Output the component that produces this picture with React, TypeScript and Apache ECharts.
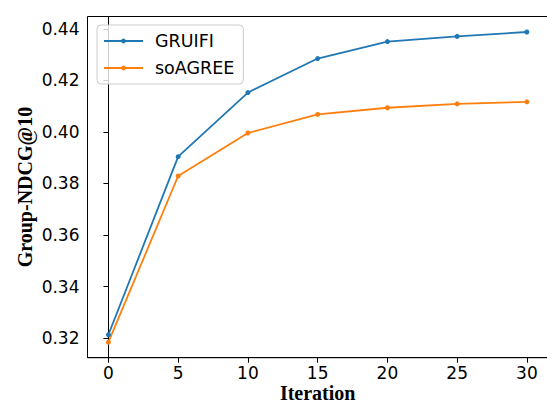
import React, { useEffect, useRef } from "react";
import * as echarts from "echarts";

// Evaluation iterations and Group-NDCG@10 per method
const iterations = [0, 5, 10, 15, 20, 25, 30];
const gruifi = [0.3213, 0.3904, 0.4153, 0.4285, 0.4351, 0.4371, 0.4388];
const soagree = [0.3184, 0.3829, 0.3996, 0.4068, 0.4094, 0.4109, 0.4117];

const xTicks = [0, 5, 10, 15, 20, 25, 30];
const yTicks = [0.32, 0.34, 0.36, 0.38, 0.4, 0.42, 0.44];

const seriesNames = ["GRUIFI", "soAGREE"];
const seriesColors = ["#1f77b4", "#ff7f0e"];

const tickFont = "'DejaVu Sans', sans-serif";
const titleFont = "'Liberation Serif', 'Times New Roman', serif";

export default function App() {
  const ref = useRef<HTMLDivElement>(null);

  useEffect(() => {
    if (!ref.current) return;
    const chart = echarts.init(ref.current, undefined, { renderer: "svg" });

    const pairs = (ys: number[]) => iterations.map((x, i) => [x, ys[i]]);
    const allY = gruifi.concat(soagree);
    const yLo = Math.min(...allY);
    const yHi = Math.max(...allY);
    const yPad = (yHi - yLo) * 0.05;
    const xLo = iterations[0];
    const xHi = iterations[iterations.length - 1];
    const xPad = (xHi - xLo) * 0.05;

    chart.setOption({
      animation: false,
      backgroundColor: "#ffffff",
      grid: {
        left: 87.5,
        right: -0.8,
        top: 16.5,
        bottom: 45.3,
        show: true,
        borderColor: "#000000",
        borderWidth: 1,
        containLabel: false,
        outerBoundsMode: "none",
      },
      legend: {
        orient: "vertical",
        left: 97,
        top: 25,
        data: seriesNames,
        itemWidth: 39,
        itemHeight: 6,
        itemGap: 9,
        padding: [7, 9, 7, 6],
        borderColor: "#cccccc",
        borderWidth: 1,
        borderRadius: 4,
        backgroundColor: "rgba(255,255,255,0.8)",
        textStyle: {
          fontFamily: tickFont,
          fontSize: 17.5,
          color: "#000000",
          padding: [0, 0, 0, 7],
        },
      },
      xAxis: {
        type: "value",
        min: xLo - xPad,
        max: xHi + xPad,
        name: "Iteration",
        nameLocation: "middle",
        nameGap: 25,
        nameMoveOverlap: false,
        nameTextStyle: {
          fontFamily: titleFont,
          fontWeight: "bold",
          fontSize: 20,
          lineHeight: 20,
          color: "#000000",
        },
        splitLine: { show: false },
        axisLine: { show: true, lineStyle: { color: "#000000", width: 1 } },
        axisTick: {
          show: true,
          inside: false,
          length: 5,
          customValues: xTicks,
          lineStyle: { color: "#000000", width: 1 },
        },
        axisLabel: {
          customValues: xTicks,
          margin: 8,
          fontFamily: tickFont,
          fontSize: 17,
          lineHeight: 15,
          color: "#000000",
          formatter: (v: number) => String(Math.round(v)),
        },
      },
      yAxis: {
        type: "value",
        min: yLo - yPad,
        max: yHi + yPad,
        name: "Group-NDCG@10",
        nameLocation: "middle",
        nameGap: 53,
        nameMoveOverlap: false,
        nameTextStyle: {
          fontFamily: titleFont,
          fontWeight: "bold",
          fontSize: 20,
          color: "#000000",
        },
        splitLine: { show: false },
        axisLine: { show: true, lineStyle: { color: "#000000", width: 1 } },
        axisTick: {
          show: true,
          inside: false,
          length: 5,
          customValues: yTicks,
          lineStyle: { color: "#000000", width: 1 },
        },
        axisLabel: {
          customValues: yTicks,
          margin: 8,
          fontFamily: tickFont,
          fontSize: 17,
          color: "#000000",
          formatter: (v: number) => v.toFixed(2),
        },
      },
      series: [
        {
          name: seriesNames[0],
          type: "line",
          data: pairs(gruifi),
          symbol: "circle",
          symbolSize: 5,
          showSymbol: true,
          lineStyle: { color: seriesColors[0], width: 1.8 },
          itemStyle: { color: seriesColors[0] },
        },
        {
          name: seriesNames[1],
          type: "line",
          data: pairs(soagree),
          symbol: "circle",
          symbolSize: 5,
          showSymbol: true,
          lineStyle: { color: seriesColors[1], width: 1.8 },
          itemStyle: { color: seriesColors[1] },
        },
      ],
    });

    return () => chart.dispose();
  }, []);

  return (
    <div
      ref={ref}
      style={{ position: "absolute", left: 0, top: 0, width: 547, height: 403 }}
    />
  );
}
